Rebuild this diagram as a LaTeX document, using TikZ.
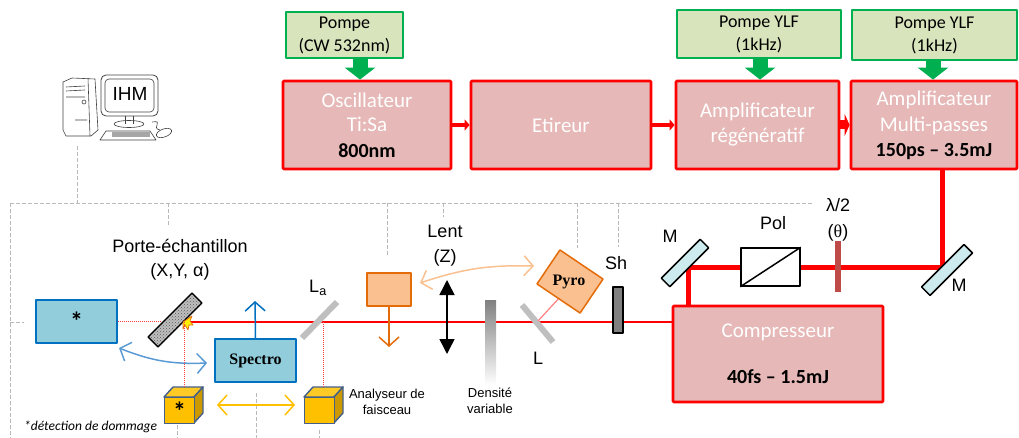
\documentclass[tikz,border=0pt]{standalone}
\usepackage{fontspec}
\setmainfont{Carlito}
\newfontfamily\arialf{Liberation Sans}
\newfontfamily\timesf{Liberation Serif}
\usetikzlibrary{arrows.meta,patterns,calc}
\definecolor{rougeboite}{HTML}{E6B8B7}
\definecolor{vertboite}{HTML}{D8E4BC}
\definecolor{vertfleche}{HTML}{00B050}
\definecolor{bleuboite}{HTML}{92CDDC}
\definecolor{bleutrait}{HTML}{0070C0}
\definecolor{bleuclair}{HTML}{5B9BD5}
\definecolor{jaune}{HTML}{FFC000}
\definecolor{jaunetrait}{HTML}{44608A}
\definecolor{orange}{HTML}{E36C09}
\definecolor{peche}{HTML}{FAC090}
\definecolor{miroir}{HTML}{CDEBEF}
\definecolor{lamebrune}{HTML}{BE4B48}
\tikzset{
laser/.style={draw=red, line width=2.8pt, fill=rougeboite, rounded corners=1pt, align=center, inner sep=0pt, text=white, font=\fontsize{21}{26}\selectfont},
pompe/.style={draw=vertfleche, line width=2pt, fill=vertboite, align=center, inner sep=0pt, font=\fontsize{18}{24}\selectfont},
bleue/.style={draw=bleutrait, line width=1.6pt, fill=bleuboite, inner sep=0pt},
pointille/.style={dash pattern=on 4pt off 2pt, gray!55, line width=.7pt},
rayon/.style={red!75!white, densely dotted, line width=1pt},
etiq/.style={inner sep=0pt, font=\arialf\fontsize{18}{18}\selectfont},
petit/.style={inner sep=0pt, font=\arialf\fontsize{13}{13}\selectfont},
ouverte/.style={line width=1.5pt, {Straight Barb[length=9pt,width=20pt]}-{Straight Barb[length=9pt,width=20pt]}},
bout/.style={line width=1.5pt, -{Straight Barb[length=9pt,width=20pt]}}
}
\newcommand{\cube}[4]{% nom, x, y, texte
\coordinate (#1) at (#2,#3);
\fill[draw=jaunetrait, line width=1.4pt, fill=jaune!85!white] (#2,#3)--(#2+9,#3-10)--(#2+39,#3-10)--(#2+30,#3)--cycle;
\fill[draw=jaunetrait, line width=1.4pt, fill=jaune!80!black] (#2+30,#3)--(#2+39,#3-10)--(#2+39,#3+16)--(#2+30,#3+26)--cycle;
\node[draw=jaunetrait, line width=1.4pt, fill=jaune, minimum width=30pt, minimum height=26pt, inner sep=0pt, anchor=north west, font=\bfseries\fontsize{26}{26}\selectfont] at (#2,#3) {#4};
}
\begin{document}
\begin{tikzpicture}[x=1pt, y=-1pt, line join=round, >=stealth]
\useasboundingbox (0,0) rectangle (1019,438);
%Liaisons vers l'ordinateur
\draw[pointille] (77,146)--(77,203) (10,203)--(812,203) (10,203)--(10,438) (10,322)--(24,322);
\foreach \x/\y in {168/225,387/255,443/217,577/248,618/247}
\draw[pointille] (\x,203)--(\x,\y);
\draw[pointille] (256,393)--(256,438) (177,425)--(177,438) (319,430)--(319,438);
%Ordinateur
\begin{scope}[black!75, line width=.6pt]
\draw (63,82)--(72,78)--(95,79)--(98,130)--(91,136)--(66,136)--(63,130)--cycle;
\draw (88,78)--(90,136) (66,87)--(85,86) (66,91)--(85,90) (66,97)--(85,97) (75,120)--(87,120);
\draw (84,102) circle (2);
\draw[rounded corners=5pt, line width=.8pt] (101,75) rectangle (158,116);
\draw[rounded corners=4pt] (105,79) rectangle (154,112);
\draw (125,116)--(125,124) (133,116)--(133,124);
\draw (129,124) ellipse (15 and 3.5);
\draw (106,131)--(150,131)--(156,140)--(100,140)--cycle;
\fill[black!35] (112,132) rectangle (150,137);
\draw (152,122) .. controls (165,120) and (150,128) .. (160,130);
\draw[rotate around={20:(164,133)}] (164,133) ellipse (8 and 4);
\end{scope}
\node[inner sep=0pt, font=\arialf\fontsize{19}{19}\selectfont] (ihm) at (130,94) {IHM};
%Chaine laser
\node[laser, minimum width=168pt, minimum height=88pt] (osc) at (367,125) {Oscillateur\\[-2pt]Ti:Sa\\[0pt]\textcolor{black}{\bfseries\fontsize{20}{26}\selectfont 800nm}};
\node[laser, minimum width=180pt, minimum height=88pt] (etireur) at (561,125) {Etireur};
\node[laser, minimum width=163pt, minimum height=88pt] (regen) at (757.5,125) {Amplificateur\\[-1pt]régénératif};
\node[laser, minimum width=166pt, minimum height=88pt] (multi) at (934,125) {Amplificateur\\[0pt]Multi-passes\\[-1pt]\textcolor{black}{\bfseries\fontsize{20}{26}\selectfont 150ps -- 3.5mJ}};
\node[laser, minimum width=210pt, minimum height=96pt] (comp) at (778,354) {Compresseur\\[20pt]\textcolor{black}{\bfseries\fontsize{20}{26}\selectfont 40fs -- 1.5mJ}};
\node[pompe, minimum width=117pt, minimum height=46pt] (pompeA) at (344.5,35) {Pompe\\[-1pt](CW 532nm)};
\node[pompe, minimum width=164pt, minimum height=48pt] (pompeB) at (759,34) {Pompe YLF\\[-1pt](1kHz)};
\node[pompe, minimum width=165pt, minimum height=50pt] (pompeC) at (934.5,35) {Pompe YLF\\[-1pt](1kHz)};
\foreach \a/\b/\x in {pompeA/osc/360,pompeB/regen/760,pompeC/multi/933}
\draw[vertfleche, line width=15pt, -{Triangle[length=12pt,width=30pt]}] (\x,0 |- \a.south)--(\x,0 |- \b.north);
\draw[red, line width=4pt, -{Triangle[length=5pt,width=11pt]}] (osc.east)--(etireur.west);
\draw[red, line width=4pt, -{Triangle[length=5pt,width=11pt]}] (etireur.east)--(regen.west);
\draw[red, line width=9pt, -{Triangle[length=5pt,width=22pt]}] (regen.east)--(multi.west);
%Faisceau fort
\coordinate (mD) at (942,267);
\coordinate (mG) at (688,267);
\draw[red, line width=5pt] (942,0 |- multi.south)--(mD)--(mG)--(688,0 |- comp.north);
\node[draw=black, line width=1.5pt, fill=miroir, minimum width=55pt, minimum height=12pt, inner sep=0pt, rotate=45] (M1) at (685,263) {};
\node[draw=black, line width=1.5pt, fill=miroir, minimum width=60pt, minimum height=12pt, inner sep=0pt, rotate=45] (M2) at (947,270) {};
\node[etiq] (labM1) at (670,236) {M};
\node[etiq] (labM2) at (959,285) {M};
\node[draw=black, line width=1.5pt, fill=white, minimum width=59pt, minimum height=38pt, inner sep=0pt] (pol) at (770.5,267) {};
\draw[line width=1.5pt] (pol.south west)--(pol.north east);
\node[etiq] (labpol) at (773,223) {Pol};
\node[fill=lamebrune, draw=none, minimum width=6pt, minimum height=51pt, inner sep=0pt] (lame) at (838,266.5) {};
\node[etiq] (lablame) at (838,205) {λ/2};
\node[etiq] (labtheta) at (838,233) {(\timesf θ\arialf)};
%Faisceau fin
\coordinate (impact) at (184,322);
\draw[red, line width=1.4pt] (comp.west |- 0,322)--(impact);
\node[draw=black, line width=1.2pt, fill=black!50, minimum width=10pt, minimum height=46pt, inner sep=0pt] (Sh) at (618,310) {};
\node[etiq] (labSh) at (616,263) {Sh};
%Densite variable
\node[minimum width=11pt, minimum height=85pt, inner sep=0pt, top color=black!50, bottom color=white] (dens) at (490.5,342.5) {};
\node[petit, align=center] (labdens) at (490,401) {Densité\\[3pt]variable};
%Lames et pyro
\coordinate (lA) at (522,305);
\coordinate (lB) at (553,342);
\draw[black!25, line width=6pt] (lA)--(lB);
\node[etiq] (labL) at (538,358) {L};
\node[draw=orange, line width=1.5pt, fill=peche, minimum width=52pt, minimum height=41pt, inner sep=0pt, rotate=-34] (pyro) at (570,281.5) {};
\node[inner sep=0pt, font=\timesf\bfseries\fontsize{16}{16}\selectfont] (labpyro) at (569,282) {Pyro};
\coordinate (lC) at (538,321);
\draw[red!50!white, line width=1.2pt] (lC)--(pyro.south);
%Lentille
\coordinate (hL) at (447,280);
\coordinate (bL) at (447,354);
\draw[line width=1.5pt, {Triangle[length=15pt,width=15pt]}-{Triangle[length=15pt,width=15pt]}] (hL)--(bL);
\node[etiq] (lablent) at (445,231) {Lent};
\node[etiq] (labZ) at (445,258) {(Z)};
%Analyseur orange
\node[draw=orange, line width=1.5pt, fill=peche, minimum width=44pt, minimum height=33pt, inner sep=0pt] (orbox) at (389,289.5) {};
\coordinate (orbas) at (389,347);
\draw[orange, bout] (orbox.south)--(orbas);
\coordinate (coA) at (420,283);
\coordinate (coB) at (534,266);
\draw[peche, ouverte] (coA) to[bend left=10] (coB);
%Porte-echantillon
\node[etiq] (labporte) at (180,246) {Porte-échantillon};
\node[etiq] (labxy) at (180,272) {(X,Y, α)};
\node[draw=black, line width=1.5pt, fill=black!25, minimum width=62pt, minimum height=14pt, inner sep=0pt, rotate=45] (porte) at (175,320) {};
\node[pattern=crosshatch dots, pattern color=black!65, minimum width=61pt, minimum height=13pt, inner sep=0pt, rotate=45] (grain) at (175,320) {};
\fill[draw=orange, fill=yellow, line width=.7pt] (183,322)--(192,316)--(190,321)--(193,325)--(189,325)--(188,330)--(185,325)--(183,329)--cycle;
%Detection
\node[bleue, minimum width=81pt, minimum height=43pt, font=\bfseries\fontsize{26}{26}\selectfont] (dom) at (76.5,321.5) {*};
\draw[rayon] (dom.east)--(161,0 |- dom.east);
\node[bleue, minimum width=81pt, minimum height=43pt, font=\timesf\bfseries\fontsize{16}{16}\selectfont] (spectro) at (255.5,360.5) {Spectro};
\coordinate (sphaut) at (255,301);
\draw[bleutrait, bout] (spectro.north)--(sphaut);
\coordinate (blA) at (119,348);
\coordinate (blB) at (207,363);
\draw[bleuclair, ouverte] (blA) to[bend right=12] (blB);
%Lame La et analyseur
\coordinate (laA) at (302,338);
\coordinate (laB) at (337,302);
\draw[black!25, line width=6pt] (laA)--(laB);
\node[etiq] (labLa) at (318,288) {L\textsubscript{a}};
\cube{cubeA}{164}{397}{*}
\cube{cubeB}{304}{397}{}
\draw[rayon] (impact)--(184,387);
\draw[rayon] (323,322)--(323,387);
\coordinate (jaA) at (217,405);
\coordinate (jaB) at (295,405);
\draw[jaune, ouverte] (jaA)--(jaB);
\node[petit, align=center] (labana) at (387,402) {Analyseur de\\[3pt]faisceau};
\node[inner sep=0pt, anchor=west, font=\itshape\fontsize{13.5}{13.5}\selectfont] (labdom) at (24,427) {*détection de dommage};
\end{tikzpicture}
\end{document}
